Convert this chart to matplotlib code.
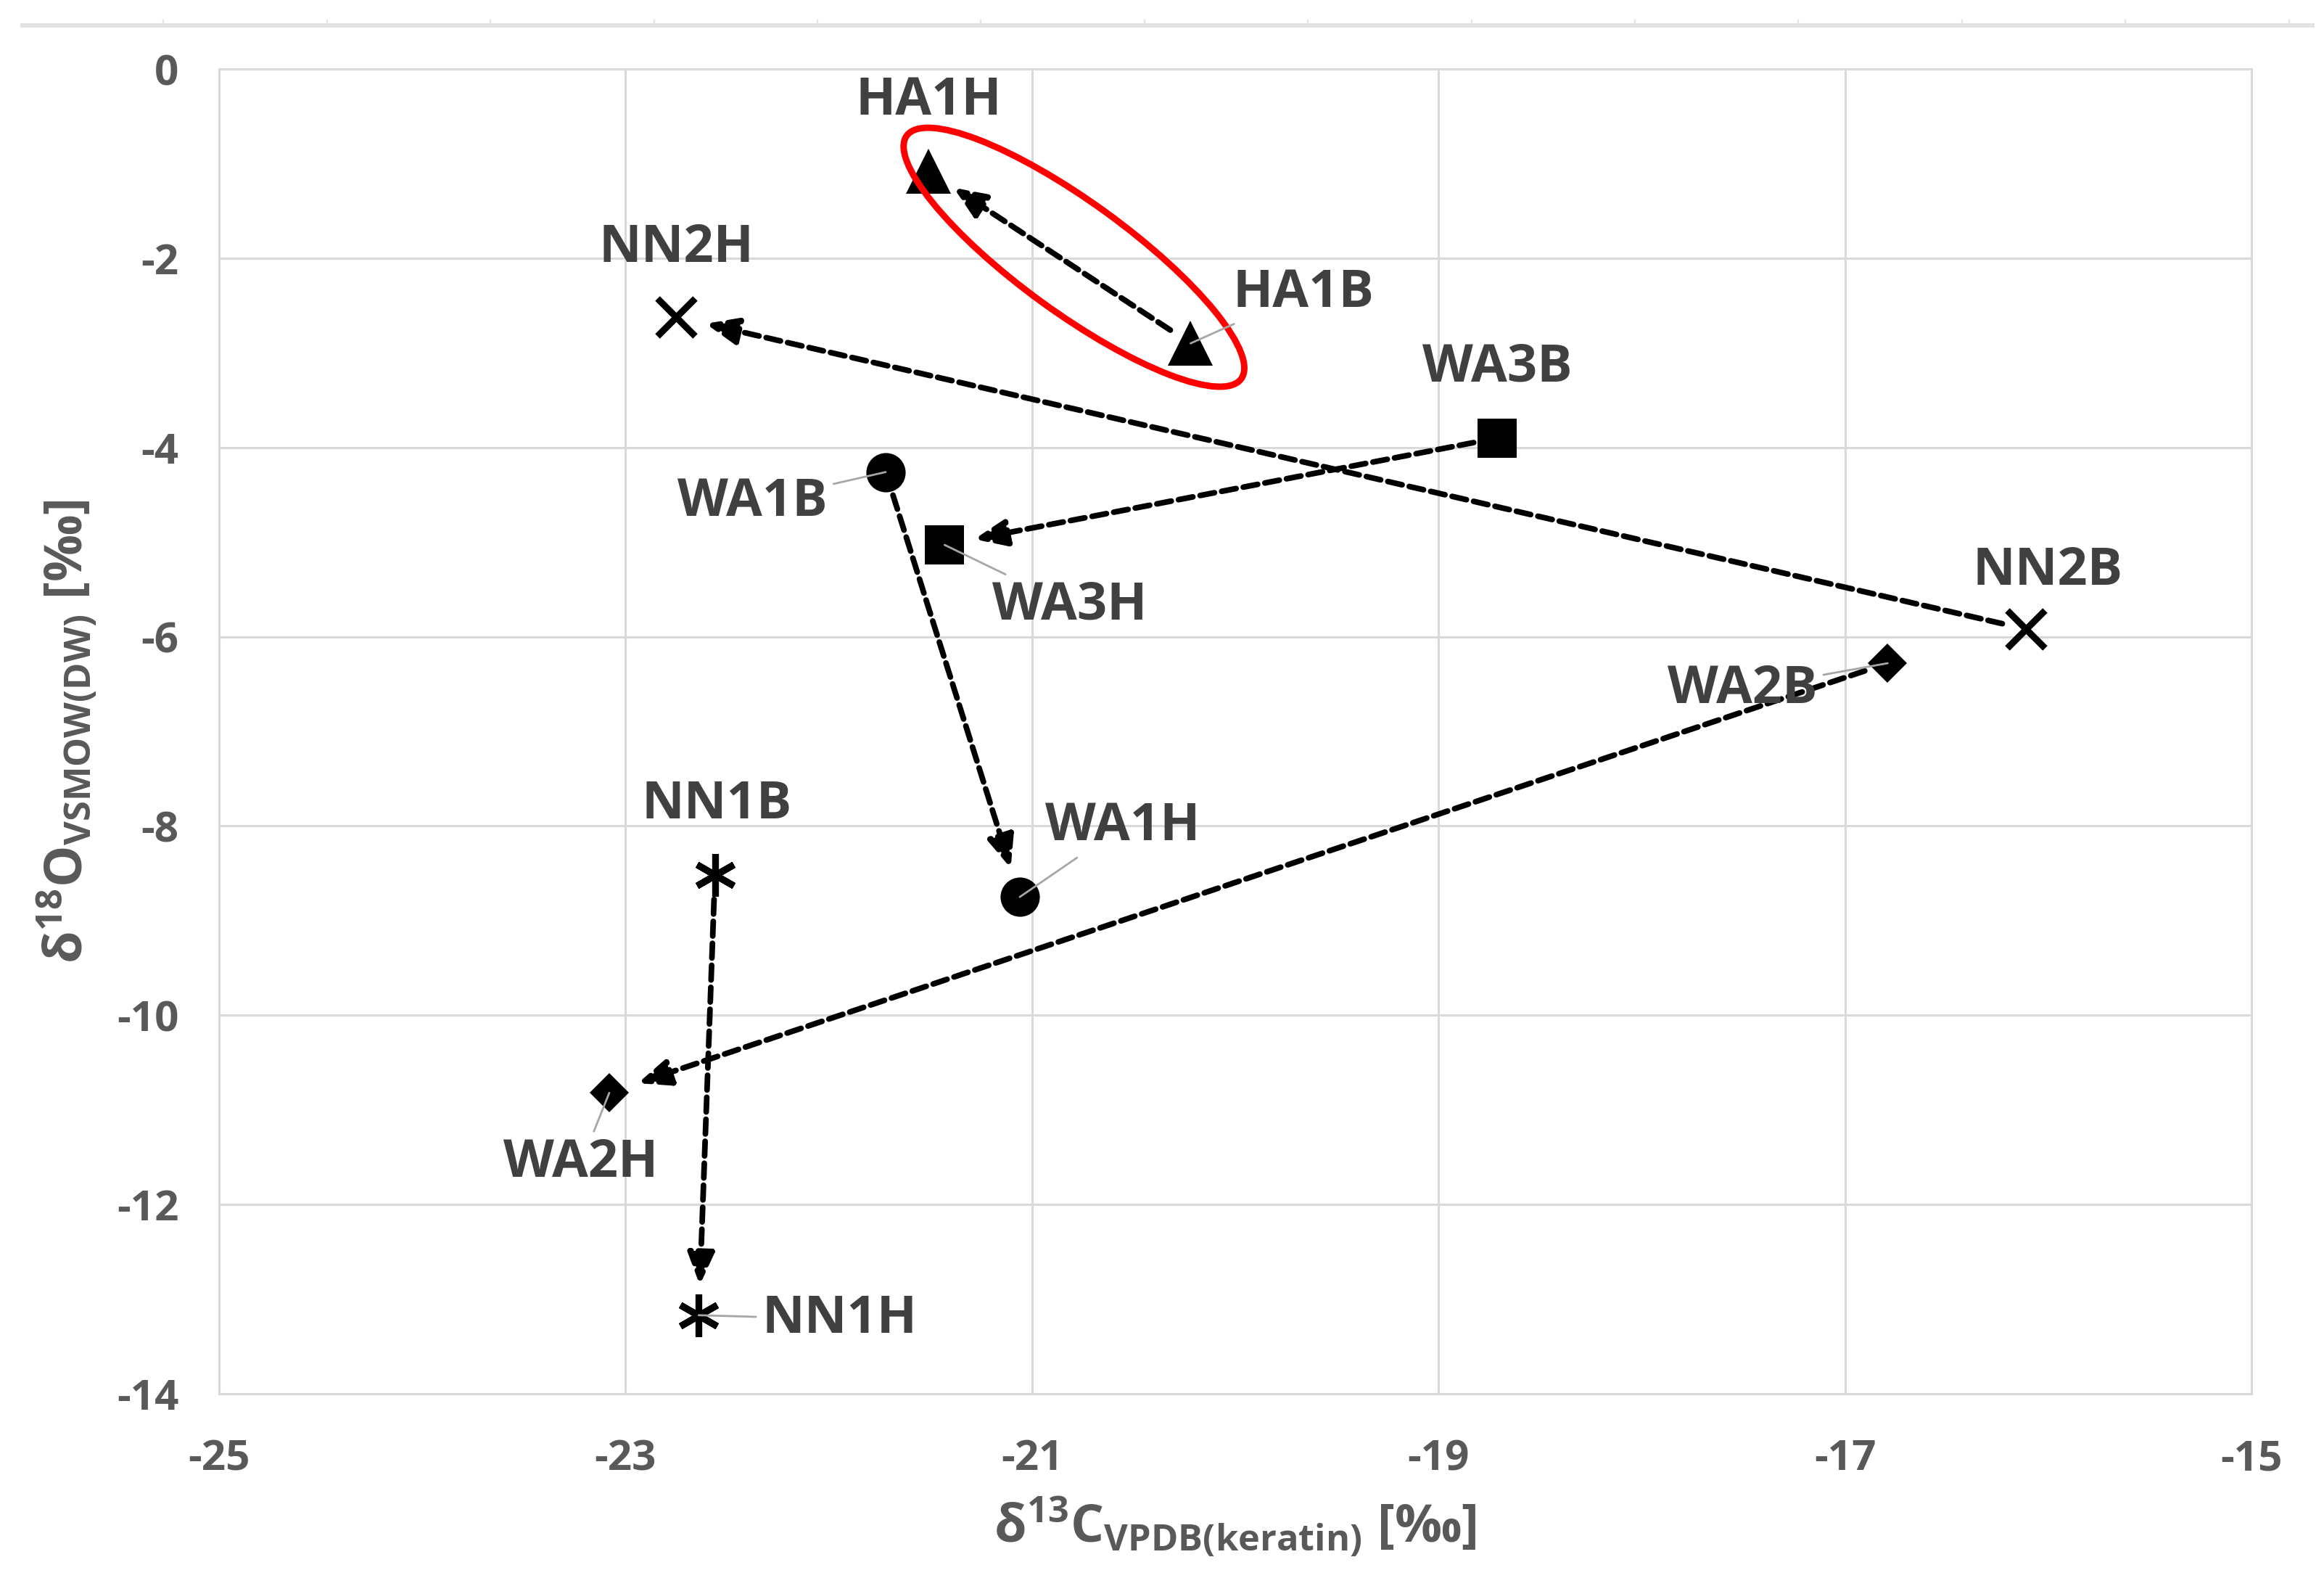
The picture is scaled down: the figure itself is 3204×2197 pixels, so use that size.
import matplotlib
matplotlib.use("Agg")
import matplotlib.pyplot as plt
from matplotlib.patches import Ellipse
from matplotlib.lines import Line2D
from matplotlib.transforms import ScaledTranslation
import numpy as np

# ---------------- data ----------------
groups = ["HA1", "NN2", "WA3", "WA1", "WA2", "NN1"]
b_x = [-20.22, -16.11, -18.71, -21.72, -16.79, -22.56]
b_y = [-2.90, -5.92, -3.90, -4.26, -6.28, -8.52]
h_x = [-21.51, -22.75, -21.43, -21.06, -23.08, -22.64]
h_y = [-1.08, -2.62, -5.03, -8.75, -10.82, -13.17]

x_ticks = [-25, -23, -21, -19, -17, -15]
y_ticks = [0, -2, -4, -6, -8, -10, -12, -14]

# ---------------- styles ----------------
FONT = ["Open Sans", "DejaVu Sans"]
plt.rcParams["font.family"] = FONT
plt.rcParams["axes.unicode_minus"] = False
plt.rcParams["mathtext.fontset"] = "custom"
plt.rcParams["mathtext.rm"] = "Open Sans"
plt.rcParams["mathtext.bf"] = "Open Sans:bold"
plt.rcParams["mathtext.it"] = "Open Sans:italic"

markers = {
    "HA1": dict(marker="^", ms=22, mfc="black", mec="black", mew=0),
    "NN2": dict(marker="x", ms=19, mec="black", mew=3.3),
    "WA3": dict(marker="s", ms=19.5, mfc="black", mec="black", mew=0),
    "WA1": dict(marker="o", ms=19.5, mfc="black", mec="black", mew=0),
    "WA2": dict(marker="D", ms=13.5, mfc="black", mec="black", mew=0),
    "NN1": dict(marker=(6, 2, 0), ms=21, mec="black", mew=3.3),
}

# label offsets (points) for B and H labels, and whether a leader line is drawn
b_off = {"HA1": (56, 25), "NN2": (11, 29), "WA3": (0, 35), "WA1": (-66, -15), "WA2": (-72, -13), "NN1": (1, 35)}
h_off = {"HA1": (0, 35), "NN2": (0, 34), "WA3": (62, -30), "WA1": (51, 35), "WA2": (-14, -35), "NN1": (70, -2)}
b_lead = {"HA1": True, "NN2": False, "WA3": False, "WA1": True, "WA2": True, "NN1": False}
h_lead = {"HA1": False, "NN2": False, "WA3": True, "WA1": True, "WA2": True, "NN1": True}

LABEL_C = "#404040"
TICK_C = "#595959"
GRID_C = "#d9d9d9"

fig = plt.figure(figsize=(16.02, 10.985), dpi=200)
W, H = 3204, 2197
ax = fig.add_axes([302 / W, (H - 1921) / H, (3104 - 302) / W, (1921 - 95) / H])

ax.set_xlim(-25, -15)
ax.set_ylim(-14, 0)
ax.set_xticks(x_ticks)
ax.set_yticks(y_ticks)
ax.grid(True, color=GRID_C, lw=1.1)
ax.set_axisbelow(True)
for s in ax.spines.values():
    s.set_color(GRID_C)
    s.set_linewidth(1.1)
ax.tick_params(length=0, labelsize=21, labelcolor=TICK_C, pad=20)
for lab in ax.get_xticklabels() + ax.get_yticklabels():
    lab.set_fontweight("bold")
ax.tick_params(axis="x", pad=22)

# arrows from B to H
for i, g in enumerate(groups):
    ax.annotate("", xy=(h_x[i], h_y[i]), xytext=(b_x[i], b_y[i]),
                arrowprops=dict(arrowstyle="-|>,head_length=0.6,head_width=0.25",
                                mutation_scale=22, color="black", lw=2.8,
                                linestyle=(0, (2.6, 1.3)), shrinkA=12, shrinkB=15),
                zorder=3)

# markers
for i, g in enumerate(groups):
    ax.plot([b_x[i], h_x[i]], [b_y[i], h_y[i]], ls="none", zorder=4, **markers[g])

# labels
def put_label(text, x, y, off, lead):
    kw = dict(xy=(x, y), xytext=off, textcoords="offset points",
              ha="center", va="center", fontsize=26, fontweight="bold",
              color=LABEL_C, zorder=6)
    if lead:
        kw["arrowprops"] = dict(arrowstyle="-", color="#a6a6a6", lw=1.0,
                                shrinkA=1, shrinkB=0)
    ax.annotate(text, **kw)

for i, g in enumerate(groups):
    put_label(g + "B", b_x[i], b_y[i], b_off[g], b_lead[g])
    put_label(g + "H", h_x[i], h_y[i], h_off[g], h_lead[g])

# red highlight ellipse around HA1 pair
cx = (b_x[0] + h_x[0]) / 2
cy = (b_y[0] + h_y[0]) / 2
ell = Ellipse((0.1, 0.0), width=2.85, height=0.76, angle=-36,
              transform=fig.dpi_scale_trans + ScaledTranslation(cx, cy, ax.transData),
              fill=False, edgecolor="#ff0000", lw=3.2, zorder=5)
ax.add_patch(ell)

# axis labels
ax.set_xlabel(r"$\mathbf{δ^{13}C_{VPDB(keratin)}}$ [‰]", fontsize=26,
              color=TICK_C, fontweight="bold")
ax.xaxis.set_label_coords(0.5, -0.100)
ax.xaxis.label.set_va("center")
ax.set_ylabel(r"$\mathbf{δ^{18}O_{VSMOW(DW)}}$ [‰]", fontsize=26,
              color=TICK_C, fontweight="bold")
ax.yaxis.set_label_coords(-0.075, 0.5)
ax.yaxis.label.set_va("center")

# faint ruler line at the very top of the page
ytop = 1 - 35 / H
fig.add_artist(Line2D([31 / W, 3188 / W], [ytop, ytop], color="#e3e3e3", lw=2.2))
for k in range(1, 15):
    xk = 225.4 * k / W
    fig.add_artist(Line2D([xk, xk], [ytop, ytop + 7 / H], color="#e3e3e3", lw=0.8))

fig.savefig("out.png", dpi=200, facecolor="white")
